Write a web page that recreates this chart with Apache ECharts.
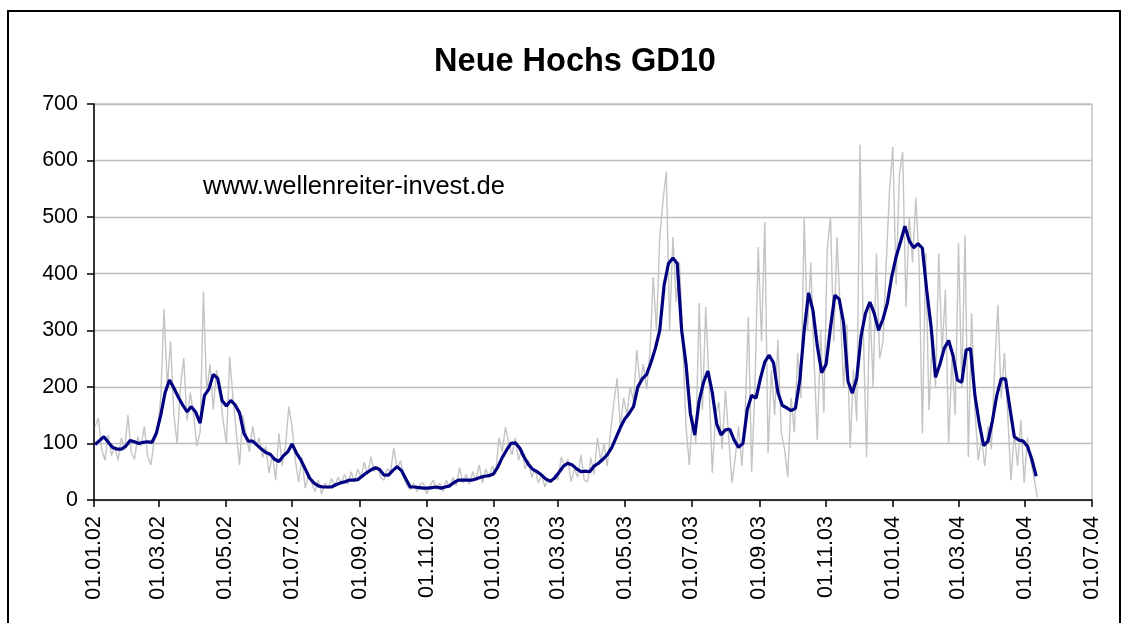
<!DOCTYPE html>
<html>
<head>
<meta charset="utf-8">
<title>Neue Hochs GD10</title>
<script src="https://cdn.jsdelivr.net/npm/echarts@6/dist/echarts.min.js"></script>
<style>
  html, body { margin: 0; padding: 0; background: #fff; }
  #chart { width: 1129px; height: 623px; }
</style>
</head>
<body>
<div id="chart"></div>
<script>
// Neue Hochs (daily, grey) and their 10-day average (GD10, navy).
// Category axis holds every calendar day 01.01.02 .. 01.07.04; the
// series are sampled from the picture at a fixed day step.

const AXIS_START = "2002-01-01";
const AXIS_END = "2004-07-01";

// daily new highs, one reading every 3 days starting at day 1 (02.01.02)
const RAW_FIRST_DAY = 1;
const RAW_STEP = 3;
const rawValues = [
  130, 145, 90, 70, 115, 78, 95, 70, 110, 88,
  150, 85, 72, 112, 95, 130, 78, 62, 105, 125,
  180, 338, 200, 280, 150, 100, 200, 251, 140, 190,
  150, 95, 120, 368, 190, 240, 160, 230, 195, 140,
  100, 253, 180, 120, 62, 150, 115, 85, 130, 95,
  110, 75, 95, 48, 80, 35, 118, 60, 95, 165,
  130, 70, 32, 75, 21, 45, 30, 15, 35, 10,
  30, 20, 38, 25, 40, 30, 45, 28, 50, 32,
  55, 40, 67, 45, 76, 50, 60, 40, 35, 55,
  50, 92, 55, 70, 40, 25, 18, 30, 15, 28,
  30, 10, 25, 35, 18, 30, 15, 35, 22, 40,
  25, 57, 30, 45, 28, 50, 35, 62, 30, 55,
  40, 60, 45, 110, 85, 129, 100, 80, 110, 70,
  90, 55, 70, 40, 55, 30, 45, 23, 38, 30,
  45, 35, 76, 60, 72, 32, 55, 40, 80, 35,
  32, 75, 45, 110, 70, 100, 60, 120, 171, 215,
  130, 180, 150, 200, 175, 265, 205, 240, 195, 260,
  394, 300, 465, 530, 580, 300, 465, 350, 420, 280,
  130, 62, 150, 100, 348, 160, 341, 210, 48, 150,
  173, 90, 194, 110, 30, 75, 130, 60, 150, 324,
  50, 200, 447, 280, 491, 83, 230, 150, 283, 120,
  90, 41, 180, 120, 260, 180, 498, 300, 420, 250,
  106, 300, 154, 442, 500, 280, 465, 330, 200, 310,
  92, 230, 140, 628, 300, 76, 350, 200, 436, 250,
  280, 420, 548, 624, 380, 575, 615, 341, 500, 420,
  534, 420, 118, 436, 159, 280, 200, 436, 260, 371,
  100, 250, 150, 454, 200, 468, 76, 330, 160, 70,
  110, 60, 130, 90, 230, 345, 180, 260, 150, 35,
  120, 60, 141, 30, 110, 70, 40, 5,
];

// GD10 (10-day average), one reading every 4 days starting at day 1
const AVG_FIRST_DAY = 1;
const AVG_STEP = 4;
const avgValues = [
  98, 105, 112, 102, 93, 90, 90, 95, 105, 103,
  100, 102, 103, 102, 118, 150, 190, 212, 198, 182,
  168, 156, 165, 155, 136, 185, 196, 222, 215, 176,
  166, 176, 168, 154, 118, 104, 104, 97, 90, 84,
  81, 72, 68, 78, 85, 99, 83, 71, 55, 39,
  30, 25, 23, 23, 23, 27, 30, 32, 35, 35,
  36, 42, 48, 53, 57, 54, 44, 44, 52, 59,
  52, 37, 23, 23, 22, 21, 21, 22, 23, 21,
  23, 25, 31, 35, 35, 35, 35, 37, 40, 42,
  43, 46, 58, 75, 88, 100, 101, 92, 76, 63,
  54, 50, 44, 37, 33, 39, 49, 60, 65, 62,
  55, 50, 51, 50, 60, 65, 72, 80, 92, 110,
  128, 143, 153, 165, 200, 214, 222, 243, 268, 300,
  380, 418, 428, 418, 300, 240, 152, 115, 175, 208,
  228, 190, 135, 115, 124, 125, 106, 93, 100, 160,
  185, 180, 215, 244, 256, 242, 190, 167, 163, 158,
  162, 212, 300, 366, 335, 272, 225, 240, 305, 362,
  355, 313, 210, 189, 215, 290, 330, 350, 330, 300,
  320, 348, 395, 430, 456, 484, 458, 446, 453, 445,
  370, 305, 217, 240, 268, 282, 255, 212, 208, 265,
  268, 185, 135, 96, 104, 140, 185, 214, 214, 162,
  112, 106, 104, 95, 72, 42,
];

const FONT = "'Liberation Sans', Arial, sans-serif";

function buildDays(start, end) {
  const out = [];
  const d = new Date(start + "T00:00:00Z");
  const stop = new Date(end + "T00:00:00Z");
  while (d <= stop) {
    out.push(d.toISOString().slice(0, 10));
    d.setUTCDate(d.getUTCDate() + 1);
  }
  return out;
}

const days = buildDays(AXIS_START, AXIS_END);

// tick + label on the 1st of every odd month
function isTickDay(index, value) {
  const month = Number(value.slice(5, 7));
  return value.slice(8, 10) === "01" && month % 2 === 1;
}

function toGerman(value) {
  return value.slice(8, 10) + "." + value.slice(5, 7) + "." + value.slice(2, 4);
}

function sampled(values, firstDay, step) {
  return values.map((v, i) => [firstDay + i * step, v]);
}

const chart = echarts.init(document.getElementById("chart"), null, {
  renderer: "canvas",
});

chart.setOption({
  backgroundColor: "#fff",
  animation: false,
  textStyle: { fontFamily: FONT, color: "#000" },
  grid: {
    left: 94,
    right: 37,
    top: 104,
    bottom: 123,
    show: true,
    borderColor: "#a6a6a6",
    borderWidth: 1,
    backgroundColor: "transparent",
  },
  xAxis: {
    type: "category",
    data: days,
    boundaryGap: false,
    axisLine: { lineStyle: { color: "#000", width: 1.5 } },
    axisTick: {
      interval: isTickDay,
      length: 7,
      lineStyle: { color: "#000", width: 1.5 },
    },
    axisLabel: {
      interval: isTickDay,
      rotate: 90,
      margin: 16,
      fontSize: 21.5,
      fontFamily: FONT,
      color: "#000",
      formatter: toGerman,
    },
    splitLine: { show: false },
  },
  yAxis: {
    type: "value",
    min: 0,
    max: 700,
    interval: 100,
    axisLine: { show: true, lineStyle: { color: "#000", width: 1.5 } },
    axisTick: { show: true, length: 7, lineStyle: { color: "#000", width: 1.5 } },
    axisLabel: { margin: 16, fontSize: 21.5, fontFamily: FONT, color: "#000" },
    splitLine: { lineStyle: { color: "#bdbdbd", width: 1.3 } },
  },
  series: [
    {
      name: "Neue Hochs",
      type: "line",
      data: sampled(rawValues, RAW_FIRST_DAY, RAW_STEP),
      showSymbol: false,
      lineStyle: { color: "#c4c4c4", width: 1.4 },
      z: 2,
    },
    {
      name: "GD10",
      type: "line",
      data: sampled(avgValues, AVG_FIRST_DAY, AVG_STEP),
      showSymbol: false,
      lineStyle: { color: "#000080", width: 3.2 },
      z: 3,
    },
  ],
  graphic: [
    {
      type: "rect",
      shape: { x: 8, y: 11, width: 1112, height: 660 },
      style: { fill: "none", stroke: "#000", lineWidth: 2 },
      z: -1,
    },
    {
      type: "text",
      x: 575,
      y: 62,
      style: {
        text: "Neue Hochs GD10",
        fontFamily: FONT,
        fontWeight: "bold",
        fontSize: 32.5,
        fill: "#000",
        textAlign: "center",
        textVerticalAlign: "middle",
      },
    },
    {
      type: "text",
      x: 203,
      y: 187,
      style: {
        text: "www.wellenreiter-invest.de",
        fontFamily: FONT,
        fontSize: 25.5,
        fill: "#000",
        textAlign: "left",
        textVerticalAlign: "middle",
      },
    },
  ],
});

window.addEventListener("resize", () => chart.resize());
</script>
</body>
</html>
